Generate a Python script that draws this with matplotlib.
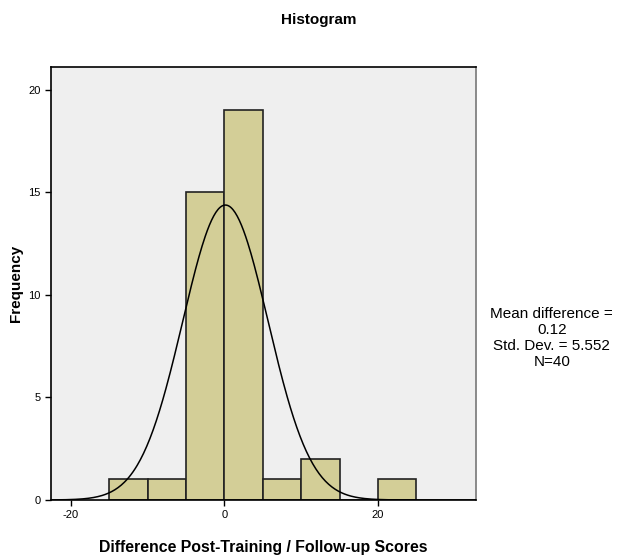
import numpy as np
import matplotlib.pyplot as plt

plt.rcParams['font.family'] = ['Liberation Sans', 'DejaVu Sans']
plt.rcParams['axes.unicode_minus'] = False

# histogram data
bin_left = [-15, -10, -5, 0, 5, 10, 15, 20]
counts = [1, 1, 15, 19, 1, 2, 0, 1]
bin_width = 5
mean_diff = 0.12
std_dev = 5.552
n_obs = 40

fig = plt.figure(figsize=(6.18, 5.58), dpi=100)
ax = fig.add_axes([0.0825, 0.104, 0.687, 0.776])
ax.set_facecolor('#efefef')

ax.bar(bin_left, counts, width=bin_width, align='edge',
       color='#d3ce97', edgecolor='#222222', linewidth=1.2, zorder=2)

# fitted normal curve scaled to counts
xs = np.linspace(-22.6, 32.7, 400)
ys = n_obs * bin_width / (std_dev * np.sqrt(2 * np.pi)) * np.exp(-0.5 * ((xs - mean_diff) / std_dev) ** 2)
ax.plot(xs, ys, color='black', linewidth=1.1, zorder=3)

ax.set_xlim(-22.6, 32.7)
ax.set_ylim(0, 21.1)
ax.set_xticks([-20, 0, 20])
ax.set_yticks([0, 5, 10, 15, 20])
ax.tick_params(direction='out', length=4, width=1, labelsize=8, colors='black')
for s in ax.spines.values():
    s.set_linewidth(1.2)
ax.spines['right'].set_color('#777777')

ax.set_xlabel('Difference Post-Training / Follow-up Scores', fontsize=11.4, fontweight='bold', labelpad=14)
ax.set_ylabel('Frequency', fontsize=11, fontweight='bold', labelpad=4)
fig.text(0.515, 0.965, 'Histogram', ha='center', va='center', fontsize=11, fontweight='bold')

fig.text(0.893, 0.394, 'Mean difference =\n0.12\nStd. Dev. = 5.552\nN=40',
         ha='center', va='center', fontsize=11, linespacing=1.2)

fig.savefig('out.png', dpi=100)
